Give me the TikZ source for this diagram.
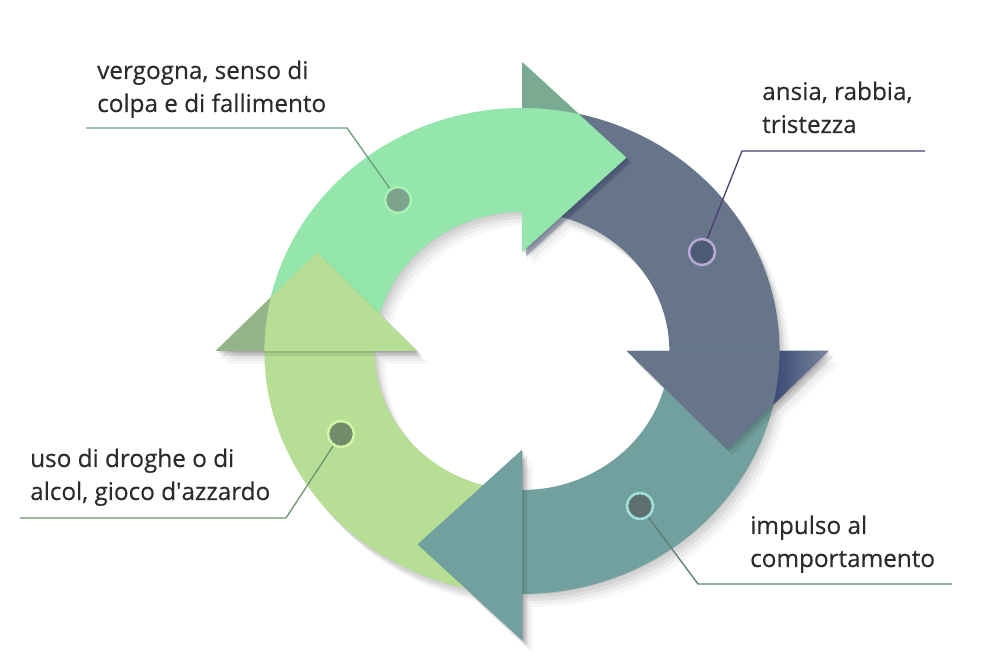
\documentclass[tikz,border=0pt]{standalone}
\usepackage{fontspec}
\setmainfont{Open Sans}
\newfontfamily\lblfont[FakeBold=0.3]{Open Sans}
\definecolor{cG}{HTML}{95E6AD}
\definecolor{cGd}{HTML}{7BAA93}
\definecolor{cGdot}{HTML}{7DA38D}
\definecolor{cGbd}{HTML}{A8F2B4}
\definecolor{cGln}{HTML}{6B9E7B}
\definecolor{cS}{HTML}{66758A}
\definecolor{cSd}{HTML}{3A4876}
\definecolor{cSm}{HTML}{7A879C}
\definecolor{cSdot}{HTML}{4B5B76}
\definecolor{cSbd}{HTML}{B8A9D6}
\definecolor{cSln}{HTML}{4D3D6E}
\definecolor{cT}{HTML}{71A09E}
\definecolor{cTdot}{HTML}{5E716E}
\definecolor{cTbd}{HTML}{9FE3DA}
\definecolor{cTln}{HTML}{5A7D78}
\definecolor{cL}{HTML}{B6DE94}
\definecolor{cLd}{HTML}{95B489}
\definecolor{cLdot}{HTML}{728B6A}
\definecolor{cLbd}{HTML}{D2F4A6}
\definecolor{cLln}{HTML}{6C9470}
\definecolor{cTxt}{HTML}{2B2B2B}
\newcommand{\arrowpath}[1]{({#1+90}:243) arc[start angle={#1+90}, end angle={#1}, radius=243] -- ({#1}:289) -- ({#1-27}:217) -- ({#1}:99) -- ({#1}:139) arc[start angle={#1}, end angle={#1+90}, radius=139] -- cycle}
\newcommand{\headpath}[1]{({#1}:289) -- ({#1-27}:217) -- ({#1}:99) -- cycle}
\newcommand{\outerpath}[1]{({#1}:289) -- ({#1-12.7}:243) arc[start angle={#1-12.7}, end angle={#1}, radius=243] -- cycle}
\tikzset{
  lbl/.style={font=\lblfont\fontsize{24.3}{33}\selectfont, text=cTxt, align=left, inner sep=0pt, anchor=base west},
  dotnode/.style={circle, minimum size=26pt, inner sep=0pt, line width=2.5pt},
  leader/.style={line width=1.3pt}
}
\begin{document}
\begin{tikzpicture}[x=1pt,y=1pt]
\useasboundingbox (0,0) rectangle (982,666);
\fill[white] (0,0) rectangle (982,666);
% soft drop shadow of the whole ring
\foreach \dx/\dy/\op in {1/-1/0.05, 3/-4/0.05, 5/-7/0.05, 8/-10/0.04, 11/-13/0.03} {
  \begin{scope}[shift={(522+\dx,315+\dy)}, xscale=1.06]
    \fill[black, opacity=\op] \arrowpath{90} \arrowpath{0} \arrowpath{-90} \arrowpath{-180};
  \end{scope}
}
\begin{scope}[shift={(522,315)}, xscale=1.06]
  % bodies
  \fill[cG] \arrowpath{90};
  \fill[cS] \arrowpath{0};
  \fill[cT] \arrowpath{-90};
  \fill[cL] \arrowpath{-180};
  % shadows of heads
  \foreach \a in {90,0,-90,-180} {
    \fill[black, opacity=0.10, shift={(2,-2)}] \headpath{\a};
    \fill[black, opacity=0.08, shift={(5,-5)}] \headpath{\a};
  }
  \fill[cSd, opacity=0.35, shift={(4,-4)}] \headpath{90};
  % heads on top
  \fill[cG] \headpath{90};
  \fill[cS] \headpath{0};
  \fill[cT] \headpath{-90};
  \fill[cL] \headpath{-180};
  % darker parts of the heads outside the ring
  \fill[cGd] \outerpath{90};
  \shade[left color=cSd, right color=cSm] \outerpath{0};
  \fill[cLd] \outerpath{-180};
\end{scope}
% markers and leaders
\node[dotnode, fill=cGdot, draw=cGbd] (dG) at (398,466) {};
\node[dotnode, fill=cSdot, draw=cSbd] (dS) at (702,414) {};
\node[dotnode, fill=cTdot, draw=cTbd] (dT) at (640,160) {};
\node[dotnode, fill=cLdot, draw=cLbd] (dL) at (341,232) {};
\coordinate (bG) at (347,538); \coordinate (eG) at (86,538);
\coordinate (bS) at (742,515); \coordinate (eS) at (925,515);
\coordinate (bT) at (698,82);  \coordinate (eT) at (952,82);
\coordinate (bL) at (286,148); \coordinate (eL) at (20,148);
\draw[leader, cGln] (dG) -- (bG) -- (eG);
\draw[leader, cSln] (dS) -- (bS) -- (eS);
\draw[leader, cTln] (dT) -- (bT) -- (eT);
\draw[leader, cLln] (dL) -- (bL) -- (eL);
% labels (anchor = baseline of the last line)
\node[lbl] (tG) at (97,554) {vergogna, senso di\\colpa e di fallimento};
\node[lbl] (tS) at (762,533) {ansia, rabbia,\\tristezza};
\node[lbl] (tT) at (750,99) {impulso al\\comportamento};
\node[lbl] (tL) at (30,166) {uso di droghe o di\\alcol, gioco d\textquotesingle azzardo};
\end{tikzpicture}
\end{document}
